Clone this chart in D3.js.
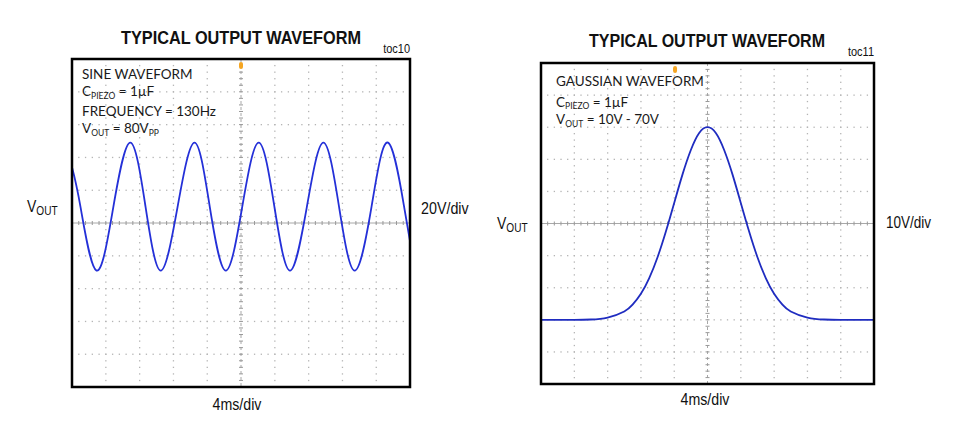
<!DOCTYPE html>
<html>
<head>
<meta charset="utf-8">
<script src="https://cdn.jsdelivr.net/npm/d3@7"></script>
<style>
  body { margin: 0; background: #fff; }
  svg { display: block; }
</style>
</head>
<body>
<svg id="chart" width="963" height="430"></svg>
<script>
// toc10: sine trace (time in ms, volts)
const sineTime = [-20, -19.0, -17.1, -15.1, -13.1, -11.3, -9.5, -7.5, -5.5, -3.7, -1.8, 0.15, 2.1, 3.95, 5.8, 7.8, 9.75, 11.6, 13.45, 15.45, 17.4, 19.3, 20];
const sineVolt = [34, 10, -29, 10, 49, 10, -29, 10, 49, 10, -29, 10, 49, 10, -29, 10, 49, 10, -29, 10, 49, 10, -11];

// toc11: gaussian pulse, 10V floor to 70V peak
const gaussTime = [-20, -16, -14, -12, -10, -9, -8, -7, -6, -5, -4, -3, -2, -1, 0, 1, 2, 3, 4, 5, 6, 7, 8, 9, 10, 12, 14, 16, 20];
const gaussVolt = [10, 10, 10.1, 10.7, 12.6, 14.7, 18.1, 23, 29.5, 37.5, 46.4, 55.3, 62.9, 68.2, 70, 68.2, 62.9, 55.3, 46.4, 37.5, 29.5, 23, 18.1, 14.7, 12.6, 10.7, 10.1, 10, 10];

const sineTrigger = [0];
const gaussTrigger = [-3.9];

const TRACE_COLOR = '#2430d8';
const GRID_COLOR = '#b4b4b4';
const AXIS_COLOR = '#a8a8a8';
const MARKER_COLOR = '#f5a623';
const SANS = '"Liberation Sans", Arial, sans-serif';
const NOTE_FONT = 'Lato, "Open Sans", sans-serif';

const svg = d3.select('#chart');

// Arial-like text, stretched a bit taller like the scanned original
function label(x, y, size, parts, opts = {}) {
    const t = svg.append('text')
        .attr('transform', `translate(${x},${y}) scale(1,1.2)`)
        .attr('text-anchor', opts.anchor || 'start')
        .style('font-family', SANS)
        .style('font-size', size + 'px')
        .style('font-weight', opts.bold ? '700' : '400')
        .style('fill', '#111');
    if (opts.length) t.attr('textLength', opts.length).attr('lengthAdjust', 'spacingAndGlyphs');
    parts.forEach(p => {
        const ts = t.append('tspan').text(p.text);
        if (p.sub) ts.style('font-size', (size * 0.72) + 'px').attr('dy', 2.5);
        else if (p.after) ts.attr('dy', -2.5);
    });
    return t;
}

function note(x, y, parts) {
    const t = svg.append('text')
        .attr('x', x).attr('y', y)
        .style('font-family', NOTE_FONT)
        .style('font-size', '13.5px')
        .style('fill', '#1a1a1a');
    parts.forEach(p => {
        const ts = t.append('tspan').text(p.text);
        if (p.sub) ts.style('font-size', '8.5px').attr('dy', 2.5);
        else if (p.after) ts.attr('dy', -2.5);
    });
}

function drawScope(cfg) {
    const x = d3.scaleLinear().domain([-20, 20]).range([cfg.x0, cfg.x1]);
    const y = d3.scaleLinear().domain(cfg.vDomain).range([cfg.y1, cfg.y0]);
    const vStep = (cfg.vDomain[1] - cfg.vDomain[0]) / 10;
    const vMid = (cfg.vDomain[0] + cfg.vDomain[1]) / 2;

    const g = svg.append('g');
    const clipId = 'clip-' + cfg.id;
    g.append('clipPath').attr('id', clipId)
        .append('rect')
        .attr('x', cfg.x0).attr('y', cfg.y0)
        .attr('width', cfg.x1 - cfg.x0).attr('height', cfg.y1 - cfg.y0);

    const tMajor = d3.range(1, 10).map(i => -20 + i * 4);
    const vMajor = d3.range(1, 10).map(i => cfg.vDomain[0] + i * vStep);
    const tMinor = d3.range(0, 51).map(i => -20 + i * 0.8);
    const vMinor = d3.range(0, 51).map(i => cfg.vDomain[0] + i * vStep / 5);

    // dotted graticule
    const dots = [];
    tMajor.filter(t => t !== 0).forEach(t => vMinor.forEach(v => dots.push([t, v])));
    vMajor.filter(v => v !== vMid).forEach(v => tMinor.forEach(t => dots.push([t, v])));
    g.append('g').selectAll('rect')
        .data(dots)
        .enter().append('rect')
        .attr('x', d => x(d[0]) - 0.6)
        .attr('y', d => y(d[1]) - 0.6)
        .attr('width', 1.3).attr('height', 1.3)
        .attr('fill', GRID_COLOR);

    // center cross with minor ticks
    g.append('line')
        .attr('x1', cfg.x0).attr('x2', cfg.x1)
        .attr('y1', y(vMid)).attr('y2', y(vMid))
        .attr('stroke', AXIS_COLOR).attr('stroke-width', 1);
    g.append('line')
        .attr('x1', x(0)).attr('x2', x(0))
        .attr('y1', cfg.y0).attr('y2', cfg.y1)
        .attr('stroke', AXIS_COLOR).attr('stroke-width', 1)
        .attr('stroke-dasharray', '3,3');
    g.append('g').selectAll('line')
        .data(tMinor)
        .enter().append('line')
        .attr('x1', d => x(d)).attr('x2', d => x(d))
        .attr('y1', y(vMid) - 2).attr('y2', y(vMid) + 2)
        .attr('stroke', '#999').attr('stroke-width', 1);
    g.append('g').selectAll('line')
        .data(vMinor)
        .enter().append('line')
        .attr('x1', x(0) - 2).attr('x2', x(0) + 2)
        .attr('y1', d => y(d)).attr('y2', d => y(d))
        .attr('stroke', '#999').attr('stroke-width', 1);

    // trace
    const line = d3.line()
        .x(d => x(d[0]))
        .y(d => y(d[1]))
        .curve(d3.curveNatural);
    g.append('path')
        .datum(d3.zip(cfg.time, cfg.volt))
        .attr('clip-path', `url(#${clipId})`)
        .attr('fill', 'none')
        .attr('stroke', cfg.color)
        .attr('stroke-width', 1.8)
        .attr('d', line);

    // trigger marker
    g.append('g').selectAll('rect')
        .data(cfg.trigger)
        .enter().append('rect')
        .attr('x', d => x(d) - 2)
        .attr('y', cfg.y0 + 3)
        .attr('width', 4).attr('height', 7)
        .attr('rx', 2)
        .attr('fill', MARKER_COLOR);

    // frame
    g.append('rect')
        .attr('x', cfg.x0).attr('y', cfg.y0)
        .attr('width', cfg.x1 - cfg.x0).attr('height', cfg.y1 - cfg.y0)
        .attr('fill', 'none')
        .attr('stroke', '#000')
        .attr('stroke-width', 2.5);
}

drawScope({
    id: 'sine', x0: 72, x1: 410, y0: 59, y1: 387,
    vDomain: [-100, 100],
    time: sineTime, volt: sineVolt, trigger: sineTrigger, color: TRACE_COLOR
});

drawScope({
    id: 'gauss', x0: 541, x1: 874, y0: 63, y1: 384,
    vDomain: [-10, 90],
    time: gaussTime, volt: gaussVolt, trigger: gaussTrigger, color: '#1f2cc0'
});

// titles
label(241, 44, 16, [{ text: 'TYPICAL OUTPUT WAVEFORM' }], { anchor: 'middle', bold: true, length: 240 });
label(707, 46.5, 16, [{ text: 'TYPICAL OUTPUT WAVEFORM' }], { anchor: 'middle', bold: true, length: 236 });
label(410, 53, 11, [{ text: 'toc10' }], { anchor: 'end' });
label(874, 55.5, 11, [{ text: 'toc11' }], { anchor: 'end' });

// axis captions
label(27, 212, 14, [{ text: 'V' }, { text: 'OUT', sub: true }]);
label(421, 214, 14.3, [{ text: '20V/div' }]);
label(237, 410, 14.2, [{ text: '4ms/div' }], { anchor: 'middle' });

label(497, 229, 14, [{ text: 'V' }, { text: 'OUT', sub: true }]);
label(886, 228, 13.5, [{ text: '10V/div' }]);
label(705, 405, 14.2, [{ text: '4ms/div' }], { anchor: 'middle' });

// in-plot notes
note(82, 79, [{ text: 'SINE WAVEFORM' }]);
note(82, 96, [{ text: 'C' }, { text: 'PIEZO', sub: true }, { text: ' = 1µF', after: true }]);
note(82, 115.5, [{ text: 'FREQUENCY = 130Hz' }]);
note(82, 133, [{ text: 'V' }, { text: 'OUT', sub: true }, { text: ' = 80V', after: true }, { text: 'PP', sub: true }]);

note(556, 86, [{ text: 'GAUSSIAN WAVEFORM' }]);
note(556, 106.5, [{ text: 'C' }, { text: 'PIEZO', sub: true }, { text: ' = 1µF', after: true }]);
note(556, 124, [{ text: 'V' }, { text: 'OUT', sub: true }, { text: ' = 10V - 70V', after: true }]);
</script>
</body>
</html>
